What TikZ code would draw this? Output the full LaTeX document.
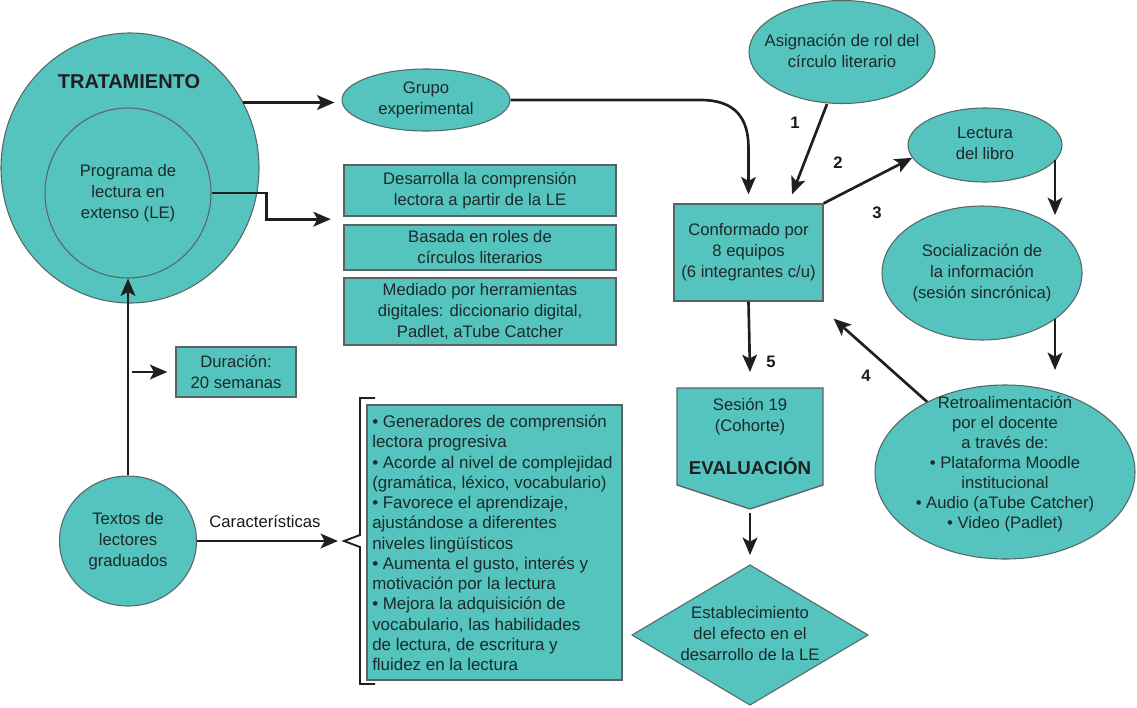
\documentclass[tikz,border=0pt]{standalone}
\usepackage{fontspec}
\setmainfont{Liberation Sans}
\usetikzlibrary{arrows.meta,calc,shapes.geometric}
\definecolor{tealf}{HTML}{55C3BE}
\definecolor{edgec}{HTML}{556868}
\definecolor{boxedge}{HTML}{5A6262}
\definecolor{txt}{HTML}{1C2A2A}
\begin{document}
\begin{tikzpicture}[x=0.75pt,y=-0.75pt,
  every node/.style={text=txt, font=\fontsize{12.5pt}{15.75pt}\selectfont, align=center, inner sep=0pt},
  ell/.style={ellipse, draw=edgec, line width=0.8pt, fill=tealf},
  bx/.style={rectangle, draw=boxedge, line width=1.8pt, fill=tealf},
  thinbx/.style={rectangle, draw=boxedge, line width=1pt, fill=tealf},
  arr/.style={line width=2pt, draw=black!88, -{Stealth[length=13pt,width=11pt,inset=3pt]}},
  num/.style={font=\fontsize{12.5pt}{14pt}\selectfont\bfseries, text=black!90},
  bold/.style={font=\fontsize{15pt}{18pt}\selectfont\bfseries, text=black!88}]
\path[use as bounding box] (0,0) rectangle (1137,707);

% left column
\node[ell, minimum width=193.5pt, minimum height=202.5pt] (trat) at (130,168) {};
\node[bold] (tratl) at (129,82) {TRATAMIENTO};
\node[ell, minimum width=124.5pt, minimum height=127.5pt] (prog) at (128,193) {};
\node (progt) at (128,193) {Programa de\\lectura en\\extenso (LE)};
\node[ell, minimum width=102.75pt, minimum height=97.5pt] (textos) at (128,541) {};
\node (textost) at (128,541) {Textos de\\lectores\\graduados};
\node[thinbx, minimum width=90pt, minimum height=37.5pt] (dur) at (236,372) {Duración:\\20 semanas};

% middle column
\node[ell, minimum width=126pt, minimum height=46.5pt] (grupo) at (426,100) {};
\node (grupot) at (426,100) {Grupo\\experimental};
\node[bx, minimum width=204pt, minimum height=38.25pt] (desa) at (480,190.5) {Desarrolla la comprensión\\lectora a partir de la LE};
\node[bx, minimum width=204pt, minimum height=33.75pt] (basa) at (480,247.5) {Basada en roles de\\círculos literarios};
\node[bx, minimum width=204pt, minimum height=50.25pt] (medi) at (480,311.5) {Mediado por herramientas\\digitales: diccionario digital,\\Padlet, aTube Catcher};
\node[bx, minimum width=191.25pt, minimum height=206.25pt] (carac) at (494.5,542.5) {};
\node[align=left, font=\fontsize{12.7pt}{15.2pt}\selectfont, anchor=west] (caract) at (372,543)
 {• Generadores de comprensión\\lectora progresiva\\• Acorde al nivel de complejidad\\(gramática, léxico, vocabulario)\\• Favorece el aprendizaje,\\ajustándose a diferentes\\niveles lingüísticos\\• Aumenta el gusto, interés y\\motivación por la lectura\\• Mejora la adquisición de\\vocabulario, las habilidades\\de lectura, de escritura y\\fluidez en la lectura};
\draw[line width=1.4pt, black!88] (375,398) -- (360,398) -- (360,535) -- (344,541) -- (360,547) -- (360,684) -- (375,684);
\coordinate (brace) at (344,541);

% right part
\node[ell, minimum width=139.5pt, minimum height=77.25pt] (asig) at (842,52) {};
\node (asigt) at (842,51) {Asignación de rol del\\círculo literario};
\node[thinbx, minimum width=111.75pt, minimum height=72.75pt] (conf) at (748.5,252.5) {Conformado por\\8 equipos\\(6 integrantes c/u)};
\node[ell, minimum width=115.5pt, minimum height=55.5pt] (lect) at (985,145) {};
\node (lectt) at (985,143) {Lectura\\del libro};
\node[ell, minimum width=150pt, minimum height=100.5pt] (soci) at (982,273) {};
\node (socit) at (982,273) {Socialización de\\la información\\(sesión sincrónica)};
\node[ell, minimum width=195pt, minimum height=130.5pt] (retro) at (1005,472) {};
\node[font=\fontsize{12.5pt}{15pt}\selectfont] (retrot) at (1005,464) {Retroalimentación\\por el docente\\a través de:\\• Plataforma Moodle\\institucional\\• Audio (aTube Catcher)\\• Video (Padlet)};

% evaluation
\draw[draw=boxedge, line width=1pt, fill=tealf] (677,388) -- (823,388) -- (823,485) -- (750,509) -- (677,485) -- cycle;
\coordinate (sestop) at (750,388);
\coordinate (sesbot) at (750,509);
\node (sest) at (750,417) {Sesión 19\\(Cohorte)};
\node[font=\fontsize{14pt}{17pt}\selectfont\bfseries, text=black!88] (eval) at (750,466) {EVALUACIÓN};
\draw[draw=edgec, line width=0.8pt, fill=tealf] (750,565) -- (868,635) -- (750,705) -- (632,635) -- cycle;
\coordinate (diatop) at (750,565);
\node (estab) at (750,634) {Establecimiento\\del efecto en el\\desarrollo de la LE};

% connectors
\draw[arr] (trat.30) -- ($(trat.30 -| grupo.west)+(-7,0)$);
\draw[arr] (prog.east) -- ++(55,0) |- ($(desa.south west)+(-12,2)$);
\draw[arr] (grupo.east) -- ++(190,0) .. controls +(35,0) and +(0,-30) .. ($(conf.north)+(0,-55)$) -- ($(conf.north)+(0,-9)$);
\draw[arr] ($(asig.south)+(-15,0)$) -- ($(conf.north)+(43.5,-9)$);
\draw[arr] (conf.north east) -- (lect.190);
\draw[arr] ($(lect.center)+(70,15)$) -- ($(lect.center)+(70,70)$);
\draw[arr] ($(soci.center)+(73,46)$) -- ($(soci.center)+(73,97)$);
\draw[arr] (retro.138) -- ($(conf.south east)+(10,17)$);
\draw[arr] (conf.south) -- ($(sestop)+(0,-16)$);
\draw[arr] ($(sesbot)+(0,4)$) -- ($(diatop)+(0,-10)$);
\draw[arr] (textos.north) -- (prog.south);
\draw[arr] ($(textos.north |- dur.west)+(4,0)$) -- ($(dur.west)+(-8,0)$);
\draw[arr] (textos.east) -- ($(textos.east -| brace)+(-6,0)$);
\node[text=black!90] (caracl) at (265,521) {Características};

% step numbers
\node[num] (n1) at (795,123) {1};
\node[num] (n2) at (838,163) {2};
\node[num] (n3) at (877,213) {3};
\node[num] (n4) at (866,376) {4};
\node[num] (n5) at (771,362) {5};
\end{tikzpicture}
\end{document}
